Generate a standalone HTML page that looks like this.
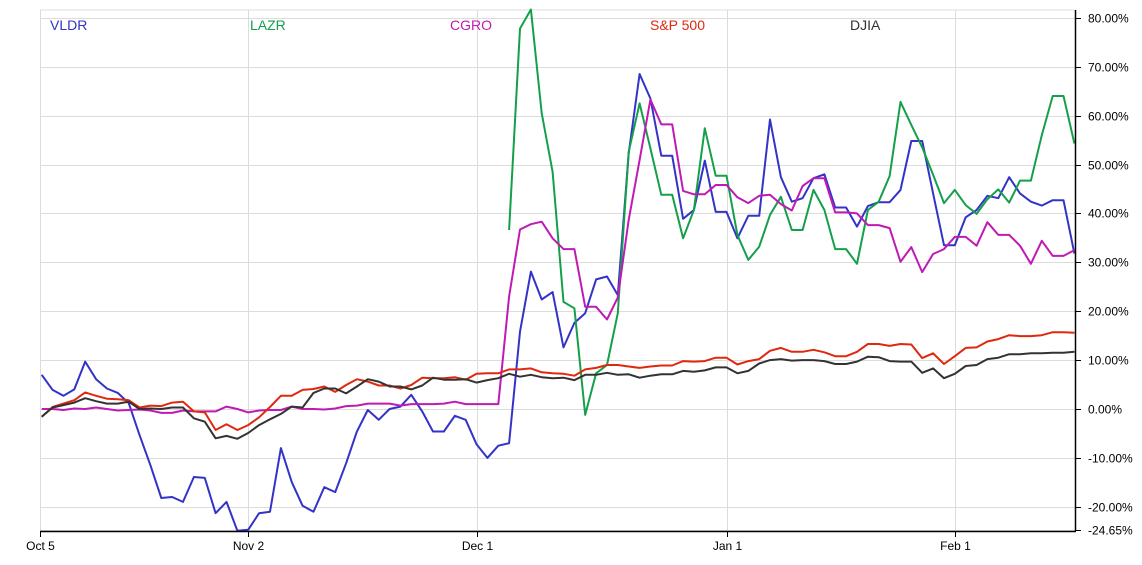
<!DOCTYPE html>
<html><head><meta charset="utf-8"><style>
html,body{margin:0;padding:0;background:#fff;}
svg{display:block;font-family:"Liberation Sans",Arial,sans-serif;}
</style></head><body>
<svg id="chart" width="1142" height="565" viewBox="0 0 1142 565" xmlns="http://www.w3.org/2000/svg">
<g id="grid"></g>
<g id="series"></g>
<g id="axes"></g>
<g id="legend"></g>
</svg>
<script>
const seriesNames = ["VLDR","LAZR","CGRO","S&P 500","DJIA"];
const seriesColors = ["#3333c8","#14a04a","#c01ab4","#e0280e","#333333"];
const xTickLabels = ["Oct 5","Nov 2","Dec 1","Jan 1","Feb 1"];
const xTickIndex = [0,19,40,63,84];
const yTickValues = [80,70,60,50,40,30,20,10,0,-10,-20,-24.65];
const vldr = [7.0,3.9,2.7,4.0,9.7,6.1,4.2,3.3,1.2,-5.3,-11.5,-18.2,-18.0,-19.0,-13.9,-14.1,-21.3,-19.0,-24.9,-24.7,-21.3,-21.0,-8.0,-14.9,-19.8,-21.0,-16.0,-17.0,-11.1,-4.6,-0.2,-2.2,0,0.5,2.9,-0.5,-4.6,-4.6,-1.4,-2.2,-7.2,-10.0,-7.5,-7.0,15.8,28.1,22.4,23.9,12.6,17.6,19.6,26.5,27.1,23.3,52.3,68.5,63.5,51.8,51.8,38.9,40.7,50.8,40.3,40.3,34.9,39.5,39.5,59.2,47.4,42.4,43.1,47.2,48.0,41.2,41.2,37.3,41.5,42.3,42.3,44.8,54.8,54.8,44.1,33.5,33.5,39.2,40.7,43.6,43.1,47.4,44.1,42.4,41.6,42.7,42.7,31.8];
const lazr = [null,null,null,null,null,null,null,null,null,null,null,null,null,null,null,null,null,null,null,null,null,null,null,null,null,null,null,null,null,null,null,null,null,null,null,null,null,null,null,null,null,null,null,36.6,77.8,81.7,60.5,48.5,21.9,20.6,-1.2,7.3,9.0,19.6,52.6,62.5,53.3,43.8,43.8,34.9,40.7,57.4,47.7,47.7,35.6,30.5,33.2,39.7,43.4,36.6,36.6,44.8,40.7,32.7,32.7,29.7,40.7,42.4,47.6,62.8,58.1,53.5,47.9,42.1,44.8,41.7,39.9,42.9,44.9,42.2,46.7,46.7,56.0,64.0,64.0,54.3];
const cgro = [0,0,-0.2,0.1,0,0.3,0,-0.3,-0.2,-0.1,-0.3,-0.8,-0.8,-0.3,-0.5,-0.5,-0.5,0.5,0,-0.7,-0.3,-0.2,-0.2,0.5,0,0,-0.1,0.1,0.6,0.7,1.1,1.1,1.1,0.7,1.0,1.0,1.0,1.1,1.5,1.0,1.0,1.0,1.0,23.0,36.7,37.8,38.3,34.9,32.7,32.7,20.9,20.9,18.3,22.8,38.7,50.9,63.3,58.2,58.2,44.6,43.9,43.9,45.8,45.8,43.3,42.1,43.6,43.8,41.9,40.6,45.6,47.2,47.2,40.2,40.2,40.0,37.6,37.6,37.0,30.1,33.1,28.0,31.7,32.7,35.2,35.2,33.4,38.2,35.6,35.6,33.4,29.7,34.4,31.3,31.3,32.5];
const spx = [-1.6,0.4,1.1,1.8,3.4,2.7,2.1,2.0,1.8,0.3,0.7,0.6,1.3,1.5,-0.5,-0.7,-4.3,-3.1,-4.3,-3.3,-1.7,0.4,2.7,2.7,3.9,4.1,4.6,3.5,4.9,6.1,5.6,4.8,4.8,4.2,4.9,6.4,6.3,6.3,6.5,6.0,7.2,7.3,7.3,8.1,8.1,8.3,7.5,7.3,7.2,6.8,8.1,8.4,9.0,9.0,8.7,8.4,8.7,8.9,8.9,9.8,9.7,9.8,10.5,10.5,9.1,9.8,10.2,11.9,12.5,11.7,11.7,12.1,11.6,10.8,10.8,11.7,13.3,13.3,12.9,13.3,13.2,10.4,11.4,9.2,10.8,12.5,12.6,13.8,14.3,15.1,14.9,14.9,15.1,15.7,15.7,15.6];
const djia = [-1.6,0.3,0.8,1.3,2.2,1.6,1.1,1.1,1.5,0,0.1,0,0.3,0.3,-1.9,-2.6,-6.0,-5.5,-6.1,-4.9,-3.3,-2.1,-1.0,0.5,0.3,3.3,4.2,4.2,3.2,4.6,6.1,5.6,4.6,4.6,4.0,4.8,6.4,6.0,6.0,6.1,5.4,5.9,6.3,7.2,6.6,7.0,6.5,6.3,6.4,5.9,7.0,7.0,7.4,7.0,7.1,6.4,6.8,7.1,7.1,7.8,7.6,7.9,8.5,8.5,7.3,7.8,9.3,10.0,10.2,9.9,10.0,10.0,9.8,9.2,9.2,9.7,10.7,10.6,9.8,9.7,9.7,7.4,8.3,6.3,7.2,8.8,9.0,10.2,10.5,11.2,11.2,11.4,11.4,11.5,11.5,11.7];
const allSeries = [vldr,lazr,cgro,spx,djia];

const NS="http://www.w3.org/2000/svg";
const L=40,R=1075,T=10,B=531,X0=41.7,XN=1074.4;
const N=vldr.length;
function xs(i){return X0+(XN-X0)*i/(N-1);}
function ys(v){return 409+(0-v)*4.89;}
function mk(tag,attrs,parent){const e=document.createElementNS(NS,tag);for(const k in attrs)e.setAttribute(k,attrs[k]);parent.appendChild(e);return e;}
const grid=document.getElementById('grid'),axes=document.getElementById('axes'),ser=document.getElementById('series'),leg=document.getElementById('legend');
mk('line',{x1:L,x2:R,y1:T,y2:T,stroke:'#dcdcdc','stroke-width':1},grid);
yTickValues.forEach(v=>{
  const y=Math.round(ys(v))+0.5;
  const g=mk('line',{x1:L,x2:R,y1:y,y2:y,stroke:'#dcdcdc','stroke-width':1},grid);
  
  
  mk('line',{x1:R,x2:R+6,y1:y,y2:y,stroke:'#000','stroke-width':1},axes);
  const t=mk('text',{x:R+13,y:y+4,'font-size':12,fill:'#000'},axes);
  t.textContent=(v.toFixed(2))+'%';
  
  
});
xTickIndex.forEach((idx,k)=>{
  const x=Math.round(idx===0?L:xs(idx))+0.5;
  const g=mk('line',{x1:x,x2:x,y1:T,y2:B,stroke:'#dcdcdc','stroke-width':1},grid);
  
  
  mk('line',{x1:x,x2:x,y1:B,y2:B+6,stroke:'#000','stroke-width':1},axes);
  const t=mk('text',{x:x,y:550,'font-size':12,fill:'#000','text-anchor':'middle'},axes);
  t.textContent=xTickLabels[k];
  
  
});
const ax=mk('line',{x1:L,x2:R+1,y1:B+0.5,y2:B+0.5,stroke:'#000','stroke-width':1.5},axes);


const ay=mk('line',{x1:R+0.5,x2:R+0.5,y1:T,y2:B,stroke:'#000','stroke-width':1.5},axes);


const clip=mk('clipPath',{id:'plotclip'},document.getElementById('chart'));
mk('rect',{x:L,y:T-2,width:R-L,height:B-T+2},clip);
allSeries.forEach((data,s)=>{
  let d='',pen=false;
  data.forEach((v,i)=>{
    if(v===null){pen=false;return;}
    d+=(pen?'L':'M')+xs(i).toFixed(1)+' '+ys(v).toFixed(1)+' ';pen=true;
  });
  const p=mk('path',{d:d,fill:'none',stroke:seriesColors[s],'stroke-width':2,'stroke-linejoin':'round','clip-path':'url(#plotclip)'},ser);
  
  
});
const legendX=[50,250,450,650,850];
seriesNames.forEach((n,s)=>{
  const t=mk('text',{x:legendX[s],y:30,'font-size':14,fill:seriesColors[s]},leg);
  t.textContent=n;
  
  
});
</script>
</body></html>
